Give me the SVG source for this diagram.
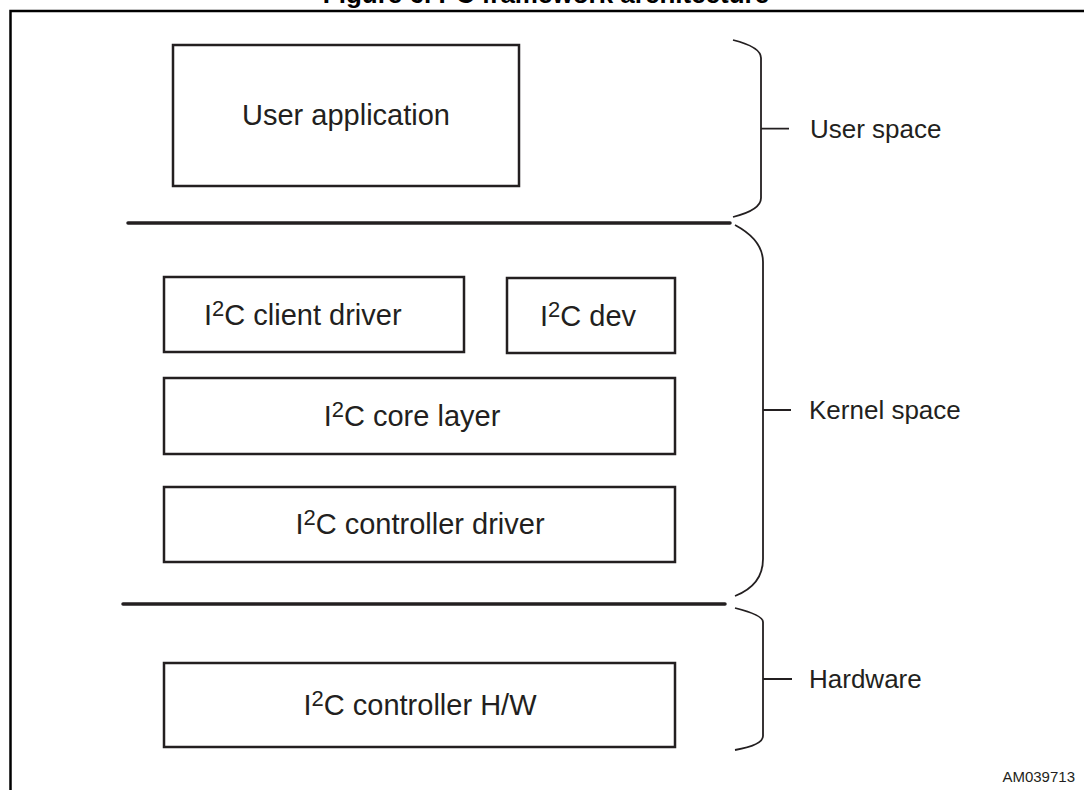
<svg xmlns="http://www.w3.org/2000/svg" width="1084" height="790" viewBox="0 0 1084 790">
<style>
.box{fill:#fff;stroke:#231f20;stroke-width:2.5}
.lbl{font-family:"Liberation Sans",Arial,sans-serif;font-size:26px;fill:#231f20}
.i2c{font-family:"Liberation Sans",Arial,sans-serif;font-size:29px;fill:#231f20}
.sup{font-size:22px}
.br{fill:none;stroke:#231f20;stroke-width:1.8}
.sep{stroke:#231f20;stroke-width:3.5;stroke-linecap:round}
</style>
<rect width="1084" height="790" fill="#fff"/>
<text x="546" y="3" text-anchor="middle" font-family="'Liberation Sans',Arial,sans-serif" font-size="26" font-weight="bold">Figure 6. I<tspan font-size="18" dy="-7">2</tspan><tspan dy="7">C framework architecture</tspan></text>
<path d="M10.5,790 V11 H1084" fill="none" stroke="#000" stroke-width="2.5"/>
<g id="user-app"><rect class="box" x="173" y="45" width="346" height="141"/><text class="i2c" x="346" y="125" text-anchor="middle" font-size="28">User application</text></g>
<g id="client-driver"><rect class="box" x="164" y="277" width="300" height="75"/><text class="i2c" x="204" y="325">I<tspan class="sup" dy="-9">2</tspan><tspan dy="9">C client driver</tspan></text></g>
<g id="dev"><rect class="box" x="507" y="278" width="168" height="75"/><text class="i2c" x="540" y="326">I<tspan class="sup" dy="-9">2</tspan><tspan dy="9">C dev</tspan></text></g>
<g id="core"><rect class="box" x="164" y="378" width="511" height="76"/><text class="i2c" x="412" y="426" text-anchor="middle">I<tspan class="sup" dy="-9">2</tspan><tspan dy="9">C core layer</tspan></text></g>
<g id="controller-driver"><rect class="box" x="164" y="487" width="511" height="75"/><text class="i2c" x="420" y="534" text-anchor="middle">I<tspan class="sup" dy="-9">2</tspan><tspan dy="9">C controller driver</tspan></text></g>
<g id="controller-hw"><rect class="box" x="164" y="663" width="511" height="84"/><text class="i2c" x="420" y="715" text-anchor="middle">I<tspan class="sup" dy="-9">2</tspan><tspan dy="9">C controller H/W</tspan></text></g>
<g id="connectors">
<line class="sep" x1="128" y1="223" x2="730" y2="223"/>
<line class="sep" x1="123" y1="604" x2="725" y2="604"/>
<path class="br" d="M733,40 Q761,47 761,58 V198 Q761,210 733,217 M761,128.7 H789"/>
<path class="br" d="M735,225 Q763,240 763,262 V559 Q763,585 735,596 M763,410 H791"/>
<path class="br" d="M735,608 Q763,615 763,622 V736 Q763,745 735,750 M763,679 H792"/>
</g>
<g id="labels">
<text class="lbl" x="810" y="138">User space</text>
<text class="lbl" x="809" y="419">Kernel space</text>
<text class="lbl" x="809" y="688">Hardware</text>
<text x="1075" y="782" text-anchor="end" font-family="'Liberation Sans',Arial,sans-serif" font-size="15" fill="#231f20">AM039713</text>
</g>
</svg>
